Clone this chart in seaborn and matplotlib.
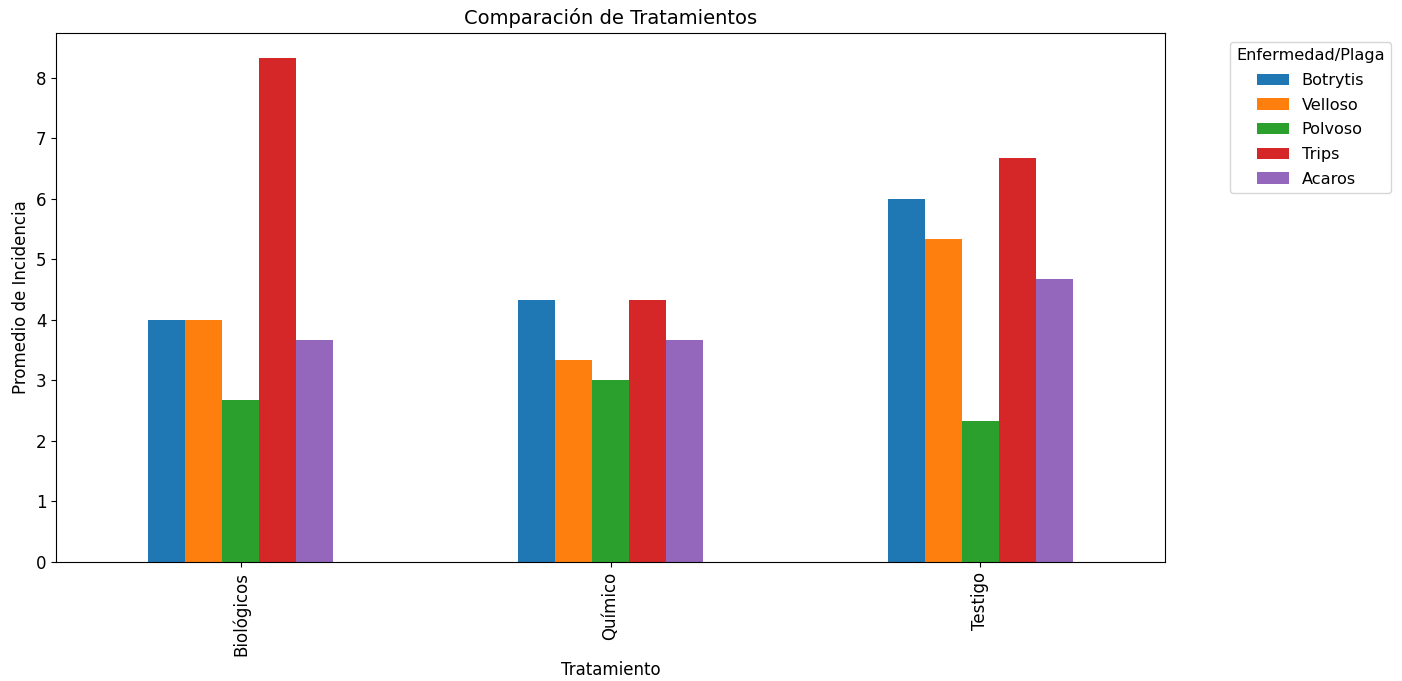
import pandas as pd
import matplotlib.pyplot as plt
import seaborn as sns

# DATA
tratamientos = ['Biológicos', 'Químico', 'Testigo']
plagas = ['Botrytis', 'Velloso', 'Polvoso', 'Trips', 'Acaros']
botrytis = [4.0, 4.33, 6.0]
velloso = [4.0, 3.33, 5.33]
polvoso = [2.67, 3.0, 2.33]
trips = [8.33, 4.33, 6.67]
acaros = [3.67, 3.67, 4.67]

df = pd.DataFrame({
    'Tratamiento': tratamientos,
    'Botrytis': botrytis,
    'Velloso': velloso,
    'Polvoso': polvoso,
    'Trips': trips,
    'Acaros': acaros,
})
long_df = df.melt(id_vars='Tratamiento', var_name='Enfermedad/Plaga',
                  value_name='Promedio de Incidencia')

fig, ax = plt.subplots(figsize=(14.02, 6.81), dpi=100)
sns.barplot(
    data=long_df, x='Tratamiento', y='Promedio de Incidencia',
    hue='Enfermedad/Plaga', hue_order=plagas, order=tratamientos,
    palette='tab10', saturation=1, width=0.5, linewidth=0, ax=ax
)
ax.set_title("Comparación de Tratamientos", fontsize=14)
ax.set_xlabel("Tratamiento", fontsize=12)
ax.set_ylabel("Promedio de Incidencia", fontsize=12)
ax.tick_params(axis='x', labelrotation=90, labelsize=12)
ax.tick_params(axis='y', labelsize=12)
ax.set_xlim(-0.5, 2.5)
ax.legend(title='Enfermedad/Plaga', bbox_to_anchor=(1.051, 0.998), loc='upper left',
          fontsize=11.6, title_fontsize=11.6, labelspacing=0.6)

plt.subplots_adjust(left=0.04, right=0.831, top=0.952, bottom=0.175)
plt.savefig('out.png', dpi=100)
